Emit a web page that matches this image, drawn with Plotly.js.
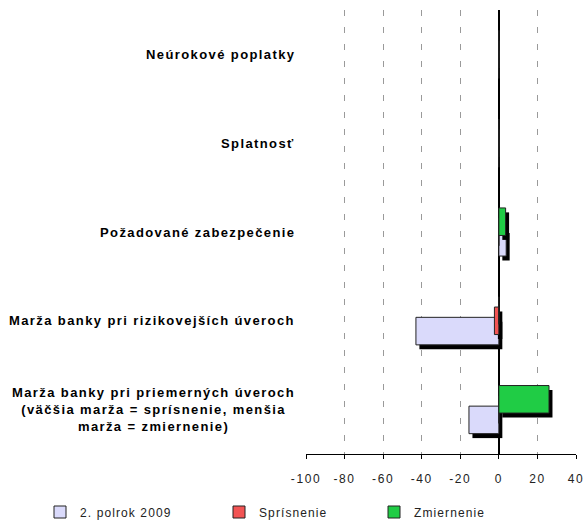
<!DOCTYPE html>
<html>
<head>
<meta charset="utf-8">
<script src="https://cdn.plot.ly/plotly-3.0.1.min.js"></script>
<style>
  html, body { margin: 0; padding: 0; background: #fff; }
  #chart { width: 585px; height: 520px; }
  text { letter-spacing: 1.1px; }
  .xtick text { letter-spacing: 1.6px; }
  text.annotation-text { letter-spacing: 1.4px; }
</style>
</head>
<body>
<div id="chart"></div>
<script>
// Categories, listed top to bottom as in the chart
const categories = [
  'Neúrokové poplatky',
  'Splatnosť',
  'Požadované zabezpečenie',
  'Marža banky pri rizikovejších úveroch',
  'Marža banky pri priemerných úveroch<br>(väčšia marža = sprísnenie, menšia<br>marža = zmiernenie)'
];
const seriesNames = ['2. polrok 2009', 'Sprísnenie', 'Zmiernenie'];
const polrok2009 = [0, 0, 3.8, -43, -15.5];
const sprisnenie = [0, 0, 0, -2.3, 0];
const zmiernenie = [0, 0, 3.5, 0, 26];
const xTicks = [-100, -80, -60, -40, -20, 0, 20, 40];

// styling
const FONT = 'Liberation Sans, Arial, sans-serif';
const colors = ['#dadafb', '#f25454', '#20cc45'];
const barWidth = 0.31;
const step = 0.116;
const centers = [-step, 0, step];      // lavender lowest, green highest
const shadowDx = 1.8;                   // x units (~3.5px)
const shadowDy = 0.05;                  // category units (~4.5px)
const legends = ['legend', 'legend2', 'legend3'];
const legendX = [40, 219, 374];

const seriesVals = [polrok2009, sprisnenie, zmiernenie];
const traces = [];
seriesVals.forEach((vals, i) => {
  const off = centers[i] - barWidth / 2;
  traces.push({
    type: 'bar', orientation: 'h',
    y: categories, x: vals,
    base: shadowDx,
    width: barWidth, offset: off - shadowDy,
    marker: { color: '#000', line: { width: 0 } },
    showlegend: false, hoverinfo: 'skip'
  });
  traces.push({
    type: 'bar', orientation: 'h',
    name: seriesNames[i],
    y: categories, x: vals,
    width: barWidth, offset: off,
    marker: { color: colors[i], line: { color: '#222', width: 1 } },
    legend: legends[i]
  });
});

function makeLegend(px) {
  return {
    orientation: 'h', xref: 'container', yref: 'container',
    x: px / 585, y: 8 / 520, yanchor: 'middle', xanchor: 'left',
    bgcolor: 'rgba(0,0,0,0)', borderwidth: 0,
    font: { family: FONT, size: 12, color: '#222' }
  };
}

const annotations = categories.map(c => ({
  xref: 'paper', yref: 'y', x: 0, y: c,
  xanchor: 'right', yanchor: 'middle', xshift: -9,
  text: c, showarrow: false, align: 'center',
  font: { family: FONT, size: 13, color: '#000', weight: 'bold' }
}));

const layout = {
  width: 585, height: 520,
  margin: { l: 306, r: 9, t: 10, b: 66 },
  paper_bgcolor: '#fff', plot_bgcolor: '#fff',
  barmode: 'overlay',
  font: { family: FONT, size: 12, color: '#222' },
  xaxis: {
    range: [-100, 40], tickvals: xTicks, ticktext: xTicks.map(String),
    showgrid: true, gridcolor: '#9a9a9a', gridwidth: 1, griddash: '6px,11px',
    zeroline: true, zerolinecolor: '#000', zerolinewidth: 1.5,
    showline: true, linecolor: '#000', linewidth: 1,
    ticks: 'outside', ticklen: 4, tickcolor: '#000', tickwidth: 1,
    ticklabelstandoff: 10,
    tickfont: { family: FONT, size: 12, color: '#222' },
    fixedrange: true
  },
  yaxis: {
    type: 'category', categoryorder: 'array',
    categoryarray: categories.slice().reverse(),
    range: [-0.5, 4.5],
    showgrid: false, zeroline: false, showline: false,
    showticklabels: false, ticks: '', fixedrange: true
  },
  legend: makeLegend(legendX[0]),
  legend2: makeLegend(legendX[1]),
  legend3: makeLegend(legendX[2]),
  annotations: annotations
};

Plotly.newPlot('chart', traces, layout, { displayModeBar: false, staticPlot: true });
</script>
</body>
</html>
